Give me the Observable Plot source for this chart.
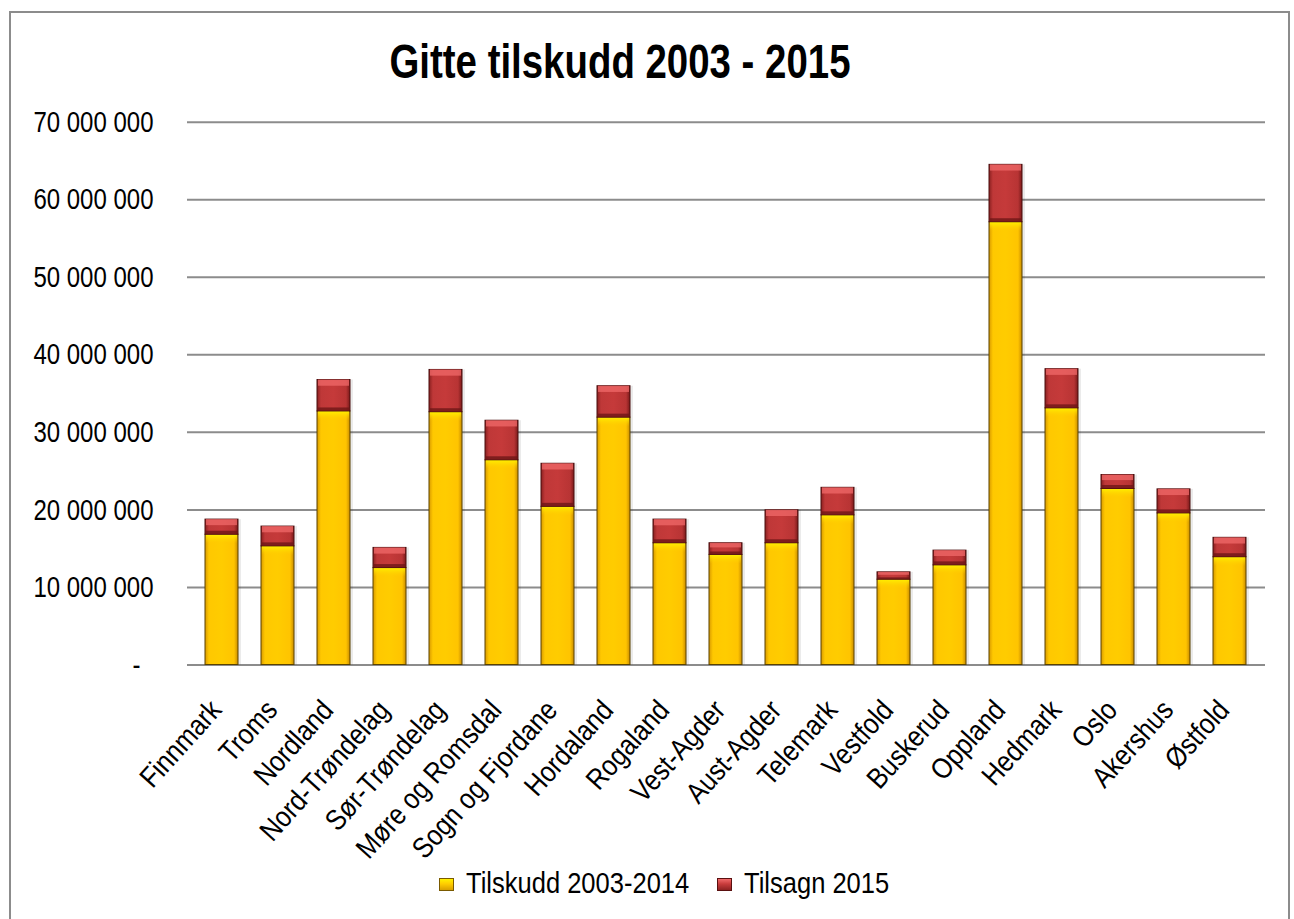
<!DOCTYPE html>
<html>
<head>
<meta charset="utf-8">
<script src="https://cdn.jsdelivr.net/npm/d3@7"></script>
<script src="https://cdn.jsdelivr.net/npm/@observablehq/plot@0.6"></script>
<style>
  html, body { margin: 0; padding: 0; background: #fff; }
  body { width: 1294px; height: 919px; overflow: hidden; position: relative;
         font-family: "Liberation Sans Narrow", "Arial Narrow", "Liberation Sans", Arial, sans-serif; }
  #frame { position: absolute; left: 9px; top: 11px; width: 1281px; height: 960px;
           border: 2px solid #8c8c8c; box-sizing: border-box; }
  #title { position: absolute; left: 0; width: 1240px; top: 34px; text-align: center;
           font-size: 48px; font-weight: bold; line-height: 56px; color: #000;
           transform: scaleX(0.8); transform-origin: 620px 0; }
  #chart { position: absolute; left: 0; top: 95px; }
  #legend { position: absolute; left: 17px; width: 1294px; top: 866px; display: flex; justify-content: center;
            font-size: 29px; line-height: 34px; color: #000; column-gap: 28px; }
  .item { display: flex; align-items: center; }
  .sw { width: 15px; height: 13px; margin-right: 12px; margin-top: 3px; box-sizing: border-box; flex: none; }
  .lbl { display: inline-block; white-space: nowrap; transform-origin: 0 0; }
</style>
</head>
<body>
<div id="frame"></div>
<div id="title">Gitte tilskudd 2003 - 2015</div>
<div id="chart"></div>
<div id="legend"></div>
<script>
const categories = ["Finnmark","Troms","Nordland","Nord-Trøndelag","Sør-Trøndelag","Møre og Romsdal","Sogn og Fjordane","Hordaland","Rogaland","Vest-Agder","Aust-Agder","Telemark","Vestfold","Buskerud","Oppland","Hedmark","Oslo","Akershus","Østfold"];
const tilskudd2003_2014 = [16.8e6, 15.3e6, 32.7e6, 12.5e6, 32.6e6, 26.4e6, 20.4e6, 31.9e6, 15.7e6, 14.2e6, 15.7e6, 19.3e6, 11.0e6, 12.85e6, 57.1e6, 33.1e6, 22.7e6, 19.55e6, 13.9e6];
const tilsagn2015 = [1.95e6, 2.55e6, 4.05e6, 2.6e6, 5.45e6, 5.1e6, 5.55e6, 4.05e6, 3.05e6, 1.5e6, 4.25e6, 3.55e6, 0.95e6, 1.9e6, 7.4e6, 5.05e6, 1.8e6, 3.1e6, 2.5e6];
const seriesNames = ["Tilskudd 2003-2014", "Tilsagn 2015"];
const yTicks = [10e6, 20e6, 30e6, 40e6, 50e6, 60e6, 70e6];

const rows = categories.map((c, i) => ({
  region: c,
  a: tilskudd2003_2014[i],
  total: tilskudd2003_2014[i] + tilsagn2015[i]
}));

const fmt = d => d3.format(",")(d).replace(/,/g, " ");
const FONT = '"Liberation Sans Narrow", "Arial Narrow", "Liberation Sans", Arial, sans-serif';

const chart = Plot.plot({
  width: 1294,
  height: 740,
  marginLeft: 187,
  marginRight: 29,
  marginTop: 26.7,
  marginBottom: 170.5,
  style: { fontFamily: FONT, fontSize: "29px", color: "#000", background: "transparent", overflow: "visible" },
  x: { domain: categories, paddingInner: 0.41, paddingOuter: 0.2, label: null },
  y: { domain: [0, 70e6], label: null },
  marks: [
    Plot.gridY(yTicks, { stroke: "#8c8c8c", strokeWidth: 2, strokeOpacity: 1 }),
    Plot.ruleY([0], { stroke: "#8c8c8c", strokeWidth: 2 }),
    // shadow
    Plot.barY(rows, { x: "region", y1: 0, y2: "total", fill: "#000", fillOpacity: 0.08, dx: 3 }),
    // yellow segment
    Plot.barY(rows, { x: "region", y1: 0, y2: "a", fill: "url(#gradY)", stroke: "#5a4300", strokeWidth: 1 }),
    Plot.barY(rows, { x: "region", y1: "a", y2: d => d.a - 1.2e6, fill: "url(#hiY)", insetLeft: 1, insetRight: 1 }),
    // red segment
    Plot.barY(rows, { x: "region", y1: "a", y2: "total", fill: "url(#gradR)", stroke: "#4a0e0e", strokeWidth: 1 }),
    Plot.barY(rows, { x: "region", y1: d => d.total, y2: d => d.total - Math.min(0.8e6, (d.total - d.a) * 0.4), fill: "#f06a6a", fillOpacity: 0.75, insetLeft: 1, insetRight: 1 }),
    Plot.barY(rows, { x: "region", y1: d => d.a, y2: d => d.a + Math.min(0.45e6, (d.total - d.a) * 0.25), fill: "#6e1616", fillOpacity: 0.8, insetLeft: 1, insetRight: 1 }),
    Plot.axisY(yTicks, { tickSize: 0, tickPadding: 34, tickFormat: fmt, fontSize: 30 }),
    Plot.axisY([0], { tickSize: 0, tickPadding: 47, tickFormat: () => "-", fontSize: 30 }),
    Plot.axisX({ tickSize: 0, tickPadding: 40, dx: -6, tickRotate: -48, fontSize: 29 })
  ]
});

const svg = d3.select(chart);
const defs = svg.insert("defs", ":first-child");
function hgrad(id, stops) {
  const g = defs.append("linearGradient").attr("id", id).attr("x1", "0").attr("x2", "1").attr("y1", "0").attr("y2", "0");
  stops.forEach(([o, c]) => g.append("stop").attr("offset", o).attr("stop-color", c));
}
hgrad("gradY", [[0, "#d99a00"], [0.12, "#ffc800"], [0.5, "#ffcc00"], [0.88, "#ffc400"], [1, "#c98c00"]]);
hgrad("gradR", [[0, "#8a2020"], [0.12, "#bf3838"], [0.5, "#c53a3a"], [0.88, "#b83434"], [1, "#7a1a1a"]]);
const hy = defs.append("linearGradient").attr("id", "hiY").attr("x1", "0").attr("x2", "0").attr("y1", "0").attr("y2", "1");
hy.append("stop").attr("offset", 0).attr("stop-color", "#fff200").attr("stop-opacity", 1);
hy.append("stop").attr("offset", 1).attr("stop-color", "#ffcc00").attr("stop-opacity", 0);

// condense text (no narrow font installed): scale each label along its own baseline
function condense(sel, k) {
  sel.each(function () {
    const t = d3.select(this);
    const tr = t.attr("transform");
    if (tr) {
      t.attr("transform", tr + ` scale(${k},1)`);
    } else {
      const x = +t.attr("x") || 0, y = +t.attr("y") || 0;
      t.attr("x", null).attr("y", null).attr("transform", `translate(${x},${y}) scale(${k},1)`);
    }
  });
}
condense(svg.selectAll("g[aria-label='y-axis tick label'] text"), 0.8);
condense(svg.selectAll("g[aria-label='x-axis tick label'] text"), 0.87);

document.getElementById("chart").appendChild(chart);

const legend = document.getElementById("legend");
const swatch = [
  "linear-gradient(to bottom, #fff200 0%, #ffcc00 45%, #d9a000 100%)",
  "linear-gradient(to bottom, #f06a6a 0%, #c83c3c 45%, #8e2222 100%)"
];
const swBorder = ["#7a5a00", "#5a1010"];
seriesNames.forEach((name, i) => {
  const item = document.createElement("div");
  item.className = "item";
  const sw = document.createElement("div");
  sw.className = "sw";
  sw.style.background = swatch[i];
  sw.style.border = "1px solid " + swBorder[i];
  const box = document.createElement("div");
  const t = document.createElement("span");
  t.className = "lbl";
  t.textContent = name;
  box.appendChild(t);
  item.appendChild(sw);
  item.appendChild(box);
  legend.appendChild(item);
  const w = t.getBoundingClientRect().width;
  t.style.transform = "scaleX(0.88)";
  box.style.width = (w * 0.88) + "px";
});
</script>
</body>
</html>
